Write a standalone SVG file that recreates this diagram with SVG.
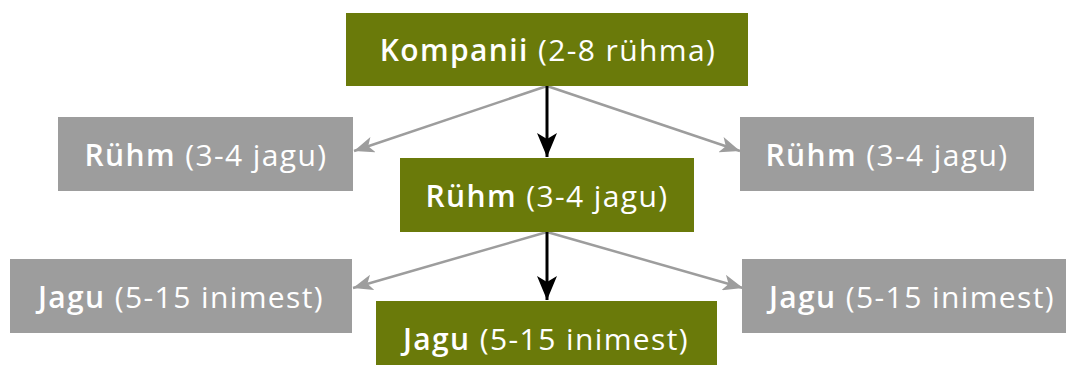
<svg xmlns="http://www.w3.org/2000/svg" width="1070" height="365" viewBox="0 0 1070 365">
<defs>
<style>
.green{fill:#6a7a0a}
.gray{fill:#9d9d9d}
text{font-family:"Open Sans","Noto Sans",sans-serif;font-size:30px;letter-spacing:1.4px;fill:#ffffff;text-anchor:middle}
.b{font-weight:600}
.gl{stroke:#9d9d9d;stroke-width:2.5;fill:none}
.bl{stroke:#000;stroke-width:3;fill:none}
</style>
<marker id="ag" viewBox="0 0 20 16" markerWidth="20" markerHeight="16" refX="20" refY="8" orient="auto" markerUnits="userSpaceOnUse">
<path d="M0,0 L20,8 L0,16 L5,8 z" fill="#9d9d9d"/>
</marker>
<marker id="ab" viewBox="0 0 24 20" markerWidth="24" markerHeight="20" refX="24" refY="10" orient="auto" markerUnits="userSpaceOnUse">
<path d="M0,0 L24,10 L0,20 L6,10 z" fill="#000"/>
</marker>
</defs>
<g id="connectors">
<line class="gl" x1="547" y1="86" x2="354" y2="151" marker-end="url(#ag)"/>
<line class="gl" x1="547" y1="86" x2="740" y2="151" marker-end="url(#ag)"/>
<line class="bl" x1="547" y1="86" x2="547" y2="157" marker-end="url(#ab)"/>
<line class="gl" x1="547" y1="232" x2="353" y2="288" marker-end="url(#ag)"/>
<line class="gl" x1="547" y1="232" x2="743" y2="288" marker-end="url(#ag)"/>
<line class="bl" x1="547" y1="232" x2="547" y2="300" marker-end="url(#ab)"/>
</g>
<g id="kompanii">
<rect class="green" x="346" y="13" width="402" height="73"/>
<text x="548" y="61"><tspan class="b">Kompanii</tspan> (2-8 rühma)</text>
</g>
<g id="ryhm-left">
<rect class="gray" x="58" y="117" width="295" height="74"/>
<text x="206" y="166"><tspan class="b">Rühm</tspan> (3-4 jagu)</text>
</g>
<g id="ryhm-center">
<rect class="green" x="400" y="158" width="294" height="74"/>
<text x="547" y="207"><tspan class="b">Rühm</tspan> (3-4 jagu)</text>
</g>
<g id="ryhm-right">
<rect class="gray" x="740" y="117" width="294" height="74"/>
<text x="887" y="166"><tspan class="b">Rühm</tspan> (3-4 jagu)</text>
</g>
<g id="jagu-left">
<rect class="gray" x="10" y="259" width="342" height="74"/>
<text x="181" y="308"><tspan class="b">Jagu</tspan> (5-15 inimest)</text>
</g>
<g id="jagu-center">
<rect class="green" x="376" y="301" width="341" height="74"/>
<text x="546" y="350"><tspan class="b">Jagu</tspan> (5-15 inimest)</text>
</g>
<g id="jagu-right">
<rect class="gray" x="742" y="259" width="324" height="74"/>
<text x="912" y="308"><tspan class="b">Jagu</tspan> (5-15 inimest)</text>
</g>
</svg>
